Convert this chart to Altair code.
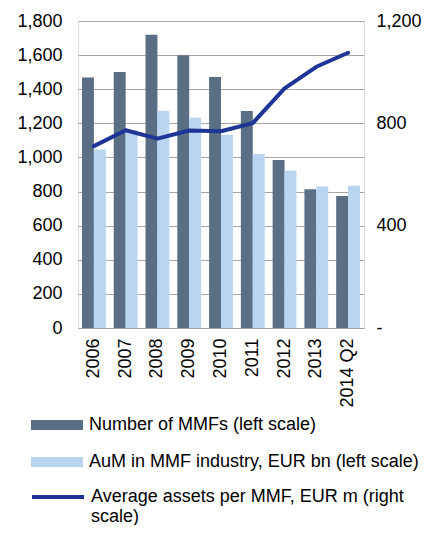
import altair as alt
import pandas as pd

years = ["2006", "2007", "2008", "2009", "2010", "2011", "2012", "2013", "2014 Q2"]
num_mmfs = [1468, 1501, 1720, 1599, 1472, 1272, 985, 813, 774]
aum_bn = [1047, 1160, 1274, 1233, 1133, 1020, 922, 829, 834]
avg_assets_m = [711, 773, 740, 772, 769, 801, 937, 1021, 1076]

series_names = [
    "Number of MMFs (left scale)",
    "AuM in MMF industry, EUR bn (left scale)",
    "Average assets per MMF, EUR m (right scale)",
]
series_colors = ["#5a6f84", "#b9d5f0", "#1f3596"]

bars_df = pd.DataFrame({
    "year": years * 2,
    "series": [series_names[0]] * len(years) + [series_names[1]] * len(years),
    "value": num_mmfs + aum_bn,
})
line_df = pd.DataFrame({
    "year": years,
    "series": [series_names[2]] * len(years),
    "value": avg_assets_m,
})

FONT = "Liberation Sans"
FS = 18

bar_legend = alt.Legend(
    title=None,
    orient="none",
    legendX=-30,
    legendY=395,
    direction="vertical",
    symbolType="M-3.25,-0.62L3.25,-0.62L3.25,0.62L-3.25,0.62Z",
    symbolSize=256,
    symbolStrokeWidth=0,
    symbolOpacity=1,
    labelFontSize=FS,
    labelFont=FONT,
    labelColor="#000000",
    labelOffset=23,
    labelLimit=500,
    rowPadding=19,
)

line_legend = alt.Legend(
    title=None,
    orient="none",
    legendX=-30,
    legendY=466,
    direction="vertical",
    symbolType="M-3.25,0L3.25,0",
    symbolSize=256,
    symbolStrokeWidth=4,
    symbolOpacity=1,
    labelFontSize=FS,
    labelFont=FONT,
    labelColor="#000000",
    labelOffset=23,
    labelLimit=500,
    labelExpr="['Average assets per MMF, EUR m (right', 'scale)']",
)

x_enc = alt.X(
    "year:N",
    sort=years,
    scale=alt.Scale(paddingInner=0.25, paddingOuter=0.125),
    axis=alt.Axis(
        title=None, labelAngle=-90, labelPadding=10, ticks=False, domain=False,
        labelFontSize=FS, labelFont=FONT, labelColor="#000000",
    ),
)

bars = alt.Chart(bars_df).mark_bar().encode(
    x=x_enc,
    xOffset=alt.XOffset("series:N", scale=alt.Scale(domain=series_names[:2], paddingInner=0, paddingOuter=0)),
    y=alt.Y(
        "value:Q",
        scale=alt.Scale(domain=[0, 1800], nice=False),
        axis=alt.Axis(
            title=None, values=list(range(0, 1801, 200)), format=",d",
            ticks=False, domain=False, grid=True, gridColor="#a6a6a6", gridWidth=1,
            labelPadding=16, labelFontSize=FS, labelFont=FONT, labelColor="#000000",
        ),
    ),
    color=alt.Color("series:N", scale=alt.Scale(domain=series_names[:2], range=series_colors[:2]), legend=bar_legend),
)

line = alt.Chart(line_df).mark_line(strokeWidth=4, strokeCap="round", strokeJoin="round").encode(
    x=alt.X("year:N", sort=years),
    y=alt.Y(
        "value:Q",
        scale=alt.Scale(domain=[0, 1200], nice=False),
        axis=alt.Axis(
            title=None, orient="right", values=[0, 400, 800, 1200],
            labelExpr="datum.value == 0 ? '-' : format(datum.value, ',d')",
            ticks=False, domain=False, grid=False,
            labelPadding=12, labelFontSize=FS, labelFont=FONT, labelColor="#000000",
        ),
    ),
    stroke=alt.Stroke("series:N", scale=alt.Scale(domain=series_names[2:], range=series_colors[2:]), legend=line_legend),
)

chart = (
    alt.layer(bars, line)
    .resolve_scale(y="independent")
    .properties(
        width=286,
        height=307,
        autosize=alt.AutoSizeParams(type="none"),
        padding={"left": 70, "top": 13, "right": 58, "bottom": 197},
    )
    .configure_view(stroke=None)
    .configure(font=FONT)
)

chart.save("out.html", embed_options={"renderer": "svg", "actions": False})
